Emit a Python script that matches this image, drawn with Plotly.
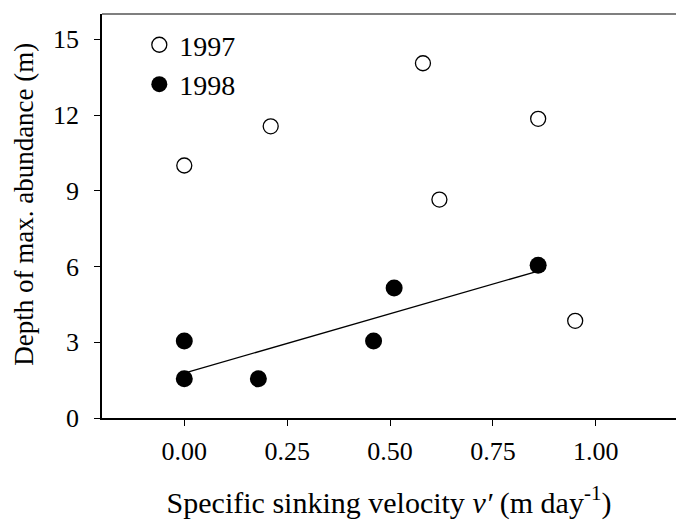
import plotly.graph_objects as go

# 1997 (open circles)
x_1997 = [0.00, 0.21, 0.58, 0.62, 0.86, 0.95]
y_1997 = [10.0, 11.55, 14.05, 8.65, 11.85, 3.85]

# 1998 (filled circles)
x_1998 = [0.00, 0.00, 0.18, 0.46, 0.51, 0.86]
y_1998 = [3.05, 1.55, 1.55, 3.05, 5.15, 6.05]

# regression line for 1998, endpoints
fit_x = [0.00, 0.86]
fit_y = [1.78, 5.82]

x_ticks = [0, 0.25, 0.5, 0.75, 1.0]
y_ticks = [0, 3, 6, 9, 12, 15]

fig = go.Figure()
fig.add_trace(go.Scatter(x=fit_x, y=fit_y, mode='lines', showlegend=False,
                         line=dict(color='black', width=1.3)))
fig.add_trace(go.Scatter(x=x_1997, y=y_1997, mode='markers', name='1997',
                         marker=dict(symbol='circle-open', size=15, color='black',
                                     line=dict(width=1.3, color='black'))))
fig.add_trace(go.Scatter(x=x_1998, y=y_1998, mode='markers', name='1998',
                         marker=dict(symbol='circle', size=17, color='black')))

font = 'Liberation Serif, Times New Roman, serif'
fig.update_layout(
    width=676, height=520,
    margin=dict(l=102, r=0, t=14, b=102, autoexpand=False),
    plot_bgcolor='white', paper_bgcolor='white',
    font=dict(family=font, color='black', size=26),
    showlegend=True,
    legend=dict(x=0.065, y=0.985, xanchor='left', yanchor='top',
                font=dict(size=28), bgcolor='rgba(0,0,0,0)',
                itemsizing='trace', tracegroupgap=0),
    xaxis=dict(range=[-0.2, 1.195], tickvals=x_ticks, tickformat='.2f',
               automargin=False,
               showgrid=False, zeroline=False, showline=True, linecolor='black',
               linewidth=1.5, ticks='outside', ticklen=6, tickcolor='black',
               tickfont=dict(size=26), ticklabelstandoff=3,
               title=dict(text='Specific sinking velocity <i>v′</i> (m day<sup>-1</sup>)',
                          font=dict(size=30), standoff=33)),
    yaxis=dict(range=[0, 16], tickvals=y_ticks, automargin=False,
               showgrid=False, zeroline=False, showline=True, linecolor='black',
               linewidth=1.5, ticks='outside', ticklen=6, tickcolor='black',
               tickfont=dict(size=26), ticklabelstandoff=10),
    annotations=[dict(text='Depth of max. abundance (m)', textangle=-90,
                      xref='paper', yref='paper', x=-0.136, y=0.53,
                      xanchor='center', yanchor='middle', showarrow=False,
                      font=dict(size=27))],
    shapes=[dict(type='line', xref='paper', yref='paper', x0=0, x1=1, y0=1, y1=1,
                 line=dict(color='#555555', width=1.5))],
)

fig.write_html("out.html", config={'displayModeBar': False},
               post_script="document.documentElement.style.overflow='hidden';"
                           "document.body.style.margin='0';"
                           "document.body.style.overflow='hidden';")
